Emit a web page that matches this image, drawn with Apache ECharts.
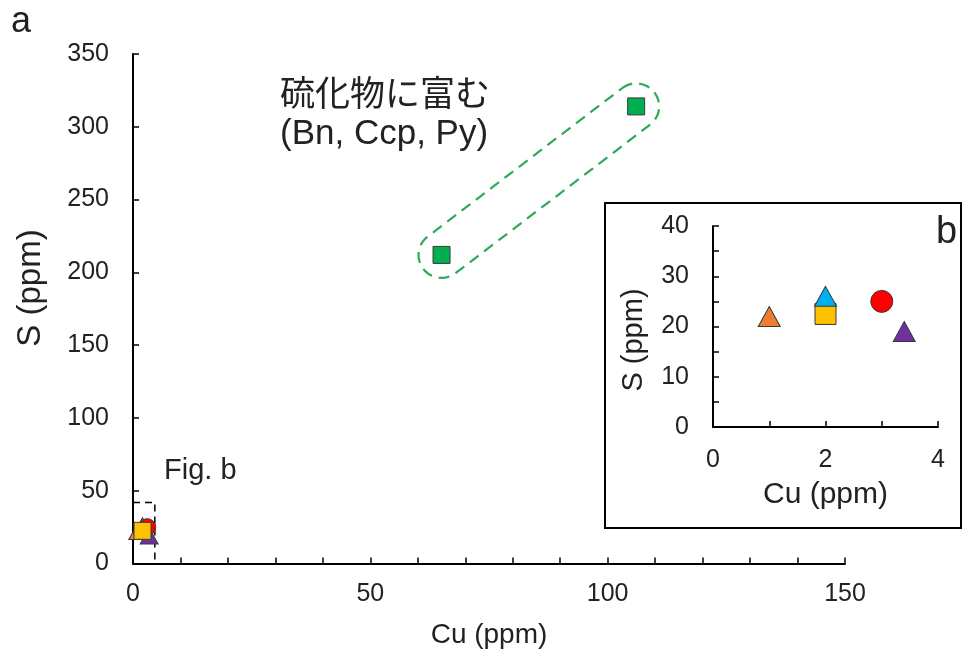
<!DOCTYPE html>
<html><head><meta charset="utf-8">
<script src="https://cdn.jsdelivr.net/npm/echarts@6/dist/echarts.min.js"></script>
<style>html,body{margin:0;padding:0;background:#fff}#c{width:963px;height:663px}</style>
</head><body><div id="c"></div>
<script>
// ---- data ----
const sulfideRich = [[65, 212], [106, 314]];   // green squares (Cu, S)
const orangeTri = [[1.0, 22]];
const blueTri = [[2.0, 26]];
const yellowSq = [[2.0, 22.5]];
const redCircle = [[3.0, 25]];
const purpleTri = [[3.4, 19]];
const figBBox = [[0, 42], [4.6, 42], [4.6, 0]];  // dashed outline of inset area
const mainXTicks = [0, 50, 100, 150];
const mainYTicks = [0, 50, 100, 150, 200, 250, 300, 350];
const insetXTicks = [0, 2, 4];
const insetYTicks = [0, 10, 20, 30, 40];

const FONT = '"Liberation Sans", Arial, sans-serif';
const CJK = '"Noto Sans CJK JP", "Liberation Sans", sans-serif';
const C = {green:'#00B050', orange:'#ED7D31', blue:'#00B0F0', yellow:'#FFC000', red:'#FF0000', purple:'#7030A0', edge:'#3a3a3a', dash:'#2EA85A'};

const chart = echarts.init(document.getElementById('c'), null, {renderer:'canvas'});

function axisBase(min, max, interval, minorSplit, fs, margin){
  return {
    type:'value', min:min, max:max, interval:interval,
    axisLine:{show:true, onZero:false, lineStyle:{color:'#000', width:2}},
    axisTick:{show:true, inside:true, length:6, lineStyle:{color:'#000', width:1.5}},
    minorTick:{show:minorSplit>0, splitNumber:minorSplit||5, length:6, lineStyle:{color:'#000', width:1.5}},
    splitLine:{show:false},
    axisLabel:{color:'#222', fontSize:fs, fontFamily:FONT, margin:margin},
    nameTextStyle:{color:'#222', fontFamily:FONT}
  };
}

const xMain = Object.assign(axisBase(mainXTicks[0], mainXTicks[mainXTicks.length-1], mainXTicks[1]-mainXTicks[0], 5, 25, 18), {
  gridIndex:0, name:'Cu (ppm)', nameLocation:'middle', nameGap:58});
xMain.nameTextStyle.fontSize = 28;
const yMain = Object.assign(axisBase(mainYTicks[0], mainYTicks[mainYTicks.length-1], mainYTicks[1]-mainYTicks[0], 0, 25, 24), {
  gridIndex:0});
const xIn = Object.assign(axisBase(insetXTicks[0], insetXTicks[insetXTicks.length-1], insetXTicks[1]-insetXTicks[0], 2, 25, 21), {
  gridIndex:1, name:'Cu (ppm)', nameLocation:'middle', nameGap:53});
xIn.nameTextStyle.fontSize = 30;
const yIn = Object.assign(axisBase(insetYTicks[0], insetYTicks[insetYTicks.length-1], insetYTicks[1]-insetYTicks[0], 2, 25, 24), {
  gridIndex:1});

function pt(name, data, symbol, size, color, xi){
  return {name:name, type:'scatter', xAxisIndex:xi, yAxisIndex:xi, data:data, symbol:symbol, symbolSize:size,
    itemStyle:{color:color, borderColor:C.edge, borderWidth:1, opacity:1}, z:5, silent:true};
}

const capsule = {
  type:'custom', xAxisIndex:0, yAxisIndex:0, data:sulfideRich, z:3, silent:true,
  renderItem:function(params, api){
    if (params.dataIndex !== 0) return null;
    const a = api.coord(sulfideRich[0]), b = api.coord(sulfideRich[1]);
    const th = Math.atan2(b[1]-a[1], b[0]-a[0]);
    const r = 23, pts = [];
    for (let i=0;i<=24;i++){ const t = th - Math.PI/2 + Math.PI*i/24; pts.push([b[0]+r*Math.cos(t), b[1]+r*Math.sin(t)]); }
    for (let i=0;i<=24;i++){ const t = th + Math.PI/2 + Math.PI*i/24; pts.push([a[0]+r*Math.cos(t), a[1]+r*Math.sin(t)]); }
    return {type:'polygon', shape:{points:pts}, style:{fill:null, stroke:C.dash, lineWidth:2.2, lineDash:[11,7]}};
  }
};

const series = [
  capsule,
  {type:'line', xAxisIndex:0, yAxisIndex:0, data:figBBox, symbol:'none', silent:true, z:2,
   lineStyle:{color:'#000', width:1.5, type:[7,5]}},
  pt('sulfide', sulfideRich, 'rect', 17, C.green, 0),
  pt('o', orangeTri, 'triangle', [18,16], C.orange, 0),
  pt('b', blueTri, 'triangle', [18,16], C.blue, 0),
  pt('r', redCircle, 'circle', 17, C.red, 0),
  pt('p', purpleTri, 'triangle', [18,16], C.purple, 0),
  pt('y', yellowSq, 'rect', 17, C.yellow, 0),
  pt('o2', orangeTri, 'triangle', [22,20], C.orange, 1),
  pt('y2', yellowSq, 'rect', 21, C.yellow, 1),
  pt('b2', blueTri, 'triangle', [22,20], C.blue, 1),
  pt('r2', redCircle, 'circle', 22, C.red, 1),
  pt('p2', purpleTri, 'triangle', [22,20], C.purple, 1)
];

chart.setOption({
  animation:false,
  backgroundColor:'#fff',
  grid:[
    {left:133, top:54, right:118, bottom:99.4},
    {left:713, top:226, right:25, bottom:236}
  ],
  xAxis:[xMain, xIn],
  yAxis:[yMain, yIn],
  graphic:[
    {type:'rect', z:-1, shape:{x:605, y:203, width:356, height:325}, style:{fill:'none', stroke:'#000', lineWidth:2}},
    {type:'text', left:11, top:4, style:{text:'a', font:'36px '+FONT, fill:'#222'}},
    {type:'text', left:936, top:214, style:{text:'b', font:'38px '+FONT, fill:'#222'}},
    {type:'text', left:164, top:456, style:{text:'Fig. b', font:'29px '+FONT, fill:'#222'}},
    {type:'text', left:280, top:75, style:{text:'硫化物に富む', font:'35px '+CJK, fill:'#222'}},
    {type:'text', left:280, top:117, style:{text:'(Bn, Ccp, Py)', font:'35px '+FONT, fill:'#222'}},
    {type:'text', x:31, y:288, rotation:Math.PI/2, style:{text:'S (ppm)', font:'33px '+FONT, fill:'#222', align:'center', verticalAlign:'middle'}},
    {type:'text', x:634, y:340, rotation:Math.PI/2, style:{text:'S (ppm)', font:'29px '+FONT, fill:'#222', align:'center', verticalAlign:'middle'}}
  ],
  series:series
});
</script>
</body></html>
